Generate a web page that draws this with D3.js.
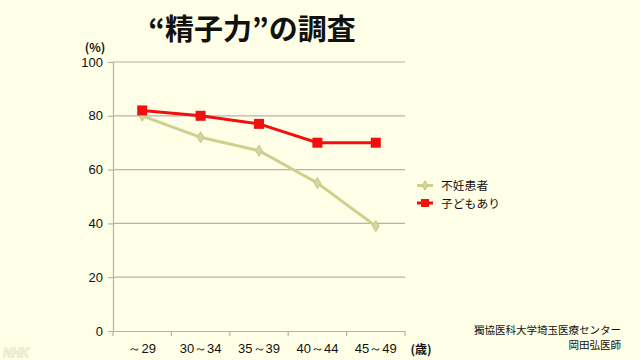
<!DOCTYPE html>
<html><head><meta charset="utf-8">
<script src="https://cdn.jsdelivr.net/npm/d3@7"></script>
<style>
html,body{margin:0;padding:0;background:#FFFEE6;}
svg{display:block;font-family:"Noto Sans CJK JP","Liberation Sans",sans-serif;}
</style></head><body>
<svg id="c" width="640" height="360"></svg>
<script>
const categories = ["～29","30～34","35～39","40～44","45～49"];
const infertile = [80,72,67,55,39];
const withChild = [82,80,77,70,70];
const yTicks = [0,20,40,60,80,100];
const seriesNames = ["不妊患者","子どもあり"];

const svg = d3.select("#c");
svg.append("rect").attr("width",640).attr("height",360).attr("fill","#FFFEE6");

const L=113,R=405,T=62,B=331;
const x = d3.scaleBand().domain(categories).range([L,R]);
const y = d3.scaleLinear().domain([0,100]).range([B,T]);

// gridlines
svg.append("g").selectAll("line").data(yTicks.filter(d=>d>0)).join("line")
  .attr("x1",L).attr("x2",R).attr("y1",d=>y(d)).attr("y2",d=>y(d))
  .attr("stroke","#b4b4ac").attr("stroke-width",1.2);

// y axis
const ya = svg.append("g").attr("transform",`translate(${L},0)`)
  .call(d3.axisLeft(y).tickValues(yTicks).tickSize(5).tickPadding(5));
ya.select(".domain").attr("stroke","#b4b4ac").attr("stroke-width",1.2);
ya.selectAll(".tick line").attr("stroke","#b4b4ac").attr("stroke-width",1.2);
ya.selectAll("text").attr("font-size",13).attr("fill","#111").attr("font-family","Liberation Sans, Arial, sans-serif");

// x axis
const xa = svg.append("g").attr("transform",`translate(0,${B})`)
  .call(d3.axisBottom(x).tickSize(0).tickPadding(13));
xa.select(".domain").attr("stroke","#b4b4ac").attr("stroke-width",1.2);
xa.selectAll("text").attr("font-size",13).attr("fill","#111");
const edges = categories.map(c=>x(c)).concat([R]);
svg.append("g").selectAll("line").data(edges).join("line")
  .attr("x1",d=>d).attr("x2",d=>d).attr("y1",B).attr("y2",B+5)
  .attr("stroke","#b4b4ac").attr("stroke-width",1.2);

const cx = c=>x(c)+x.bandwidth()/2;
const line = d3.line().x((d,i)=>cx(categories[i])).y(d=>y(d));

// infertile series
svg.append("path").datum(infertile).attr("d",line).attr("fill","none")
  .attr("stroke","#CFCF8E").attr("stroke-width",3);
svg.append("g").selectAll("path").data(infertile).join("path")
  .attr("d",d3.symbol(d3.symbolDiamond,36))
  .attr("transform",(d,i)=>`translate(${cx(categories[i])},${y(d)})`)
  .attr("fill","#D6D6A0").attr("stroke","#C4C486").attr("stroke-width",1);

// with child series
svg.append("path").datum(withChild).attr("d",line).attr("fill","none")
  .attr("stroke","#F01010").attr("stroke-width",3);
svg.append("g").selectAll("rect").data(withChild).join("rect")
  .attr("x",(d,i)=>cx(categories[i])-5).attr("y",d=>y(d)-5)
  .attr("width",10).attr("height",10).attr("fill","#F01010");

// title
svg.append("text").attr("x",252).attr("y",40).attr("text-anchor","middle")
  .attr("font-size",29).attr("font-weight","bold").attr("fill","#111")
  .text("“精子力”の調査");

svg.append("text").attr("x",95).attr("y",52).attr("text-anchor","middle")
  .attr("font-size",12).attr("font-weight","bold").attr("fill","#111").text("(%)");
svg.append("text").attr("x",421).attr("y",354).attr("text-anchor","middle")
  .attr("font-size",12).attr("font-weight","bold").attr("fill","#111").text("(歳)");

// legend
const lg = svg.append("g");
const lgY=[185.5,203];
lg.append("line").attr("x1",417).attr("x2",433).attr("y1",lgY[0]).attr("y2",lgY[0])
  .attr("stroke","#CFCF8E").attr("stroke-width",3);
lg.append("path").attr("d",d3.symbol(d3.symbolDiamond,25)).attr("transform",`translate(425,${lgY[0]})`)
  .attr("fill","#D6D6A0").attr("stroke","#C4C486");
lg.append("line").attr("x1",417).attr("x2",433).attr("y1",lgY[1]).attr("y2",lgY[1])
  .attr("stroke","#F01010").attr("stroke-width",3);
lg.append("rect").attr("x",421).attr("y",lgY[1]-4).attr("width",8).attr("height",8).attr("fill","#F01010");
lg.selectAll("text").data(seriesNames).join("text")
  .attr("x",441).attr("y",(d,i)=>lgY[i]+4.5).attr("font-size",11.8).attr("fill","#111").text(d=>d);

// credit
svg.append("text").attr("x",621).attr("y",333.5).attr("text-anchor","end")
  .attr("font-size",10.5).attr("fill","#111").text("獨協医科大学埼玉医療センター");
svg.append("text").attr("x",621).attr("y",348.8).attr("text-anchor","end")
  .attr("font-size",10.5).attr("fill","#111").text("岡田弘医師");

// watermark
svg.append("text").attr("x",3).attr("y",357).attr("font-size",12).attr("font-weight","bold")
  .attr("font-style","italic").attr("fill","none").attr("stroke","#E6E4C8").attr("stroke-width",0.8)
  .attr("font-family","Liberation Sans, Arial, sans-serif").text("NHK");
</script>
</body></html>
